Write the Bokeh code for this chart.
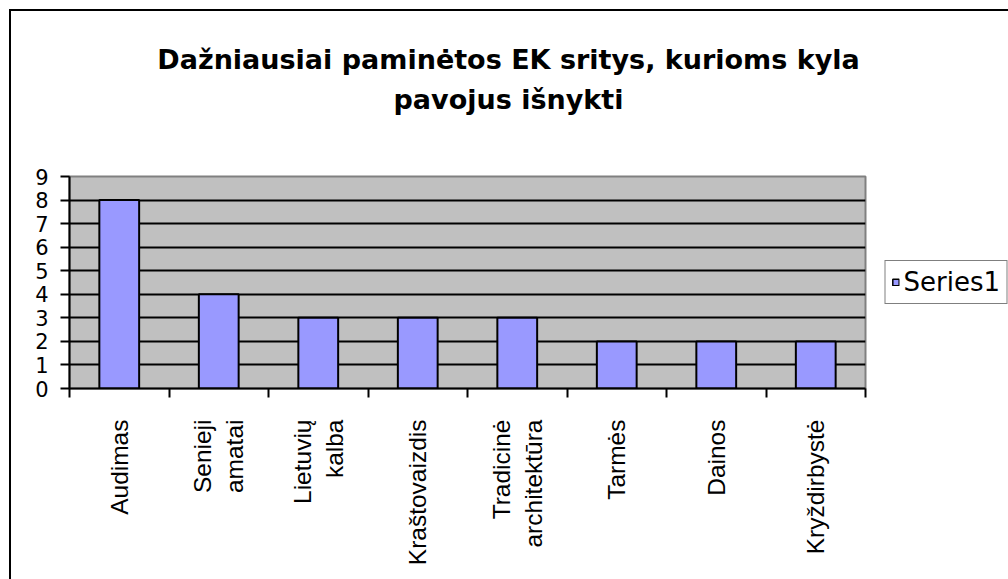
import math
from bokeh.plotting import figure
from bokeh.layouts import column, row
from bokeh.models import (ColumnDataSource, FixedTicker, Range1d, Legend, LegendItem, Div)
from bokeh.embed import file_html
from bokeh.resources import INLINE

# ---- data ----
categories = ["Audimas", "Senieji\namatai", "Lietuvių\nkalba", "Kraštovaizdis",
              "Tradicinė\narchitektūra", "Tarmės", "Dainos", "Kryždirbystė"]
values = [8, 4, 3, 3, 3, 2, 2, 2]
y_ticks = [0, 1, 2, 3, 4, 5, 6, 7, 8, 9]
series_name = "Series1"
title_lines = ["Dažniausiai paminėtos EK sritys, kurioms kyla", "pavojus išnykti"]

n = len(categories)
x_centers = [i + 0.5 for i in range(n)]
boundaries = list(range(n + 1))
src = ColumnDataSource(dict(x=x_centers, top=values, name=categories))

FONT = "Liberation Sans"
WIDE = "DejaVu Sans"
BAR_FILL = "#9999FF"

# ---- title (HTML text block above the chart) ----
title_html = ('<div style="width:980px; padding-top:29px; padding-left:15px; text-align:center; '
              'font-family:\'DejaVu Sans\'; font-weight:bold; font-size:27px; '
              'line-height:40px; color:black;">'
              + "<br>".join(title_lines) + "</div>")
title_div = Div(text=title_html, width=997, height=150, margin=0)

# ---- main chart ----
p = figure(width=856, height=418, output_backend="svg", toolbar_location=None,
           x_range=Range1d(0, n), y_range=Range1d(0, y_ticks[-1]),
           min_border_left=58, min_border_right=2, min_border_top=15, min_border_bottom=191,
           margin=0)

p.background_fill_color = "#C0C0C0"
p.border_fill_color = "white"
p.outline_line_color = "#808080"
p.outline_line_width = 2

bar_style = dict(width=0.4, fill_color=BAR_FILL, line_color="black")
bars = p.vbar(x="x", top="top", bottom=0, source=src, line_width=2, **bar_style)

p.xgrid.visible = False
p.ygrid.ticker = FixedTicker(ticks=y_ticks[1:-1])
p.ygrid.grid_line_color = "black"
p.ygrid.grid_line_width = 2

ya = p.yaxis[0]
ya.ticker = FixedTicker(ticks=y_ticks)
ya.axis_line_width = 2
ya.axis_line_color = "black"
ya.major_tick_out = 9
ya.major_tick_in = 0
ya.minor_tick_out = 0
ya.minor_tick_in = 0
ya.major_tick_line_width = 2
ya.major_label_standoff = 12
ya.major_label_text_font = WIDE
ya.major_label_text_font_size = "21px"
ya.major_label_text_color = "black"

xa = p.xaxis[0]
xa.ticker = FixedTicker(ticks=x_centers, minor_ticks=boundaries)
xa.axis_line_width = 2
xa.axis_line_color = "black"
xa.major_tick_out = 0
xa.major_tick_in = 0
xa.minor_tick_out = 9
xa.minor_tick_in = 0
xa.minor_tick_line_color = "black"
xa.minor_tick_line_width = 2
xa.major_label_overrides = {c: lab for c, lab in zip(x_centers, categories)}
xa.major_label_orientation = math.pi / 2
xa.major_label_standoff = 22
xa.major_label_text_font = FONT
xa.major_label_text_font_size = "24.5px"
xa.major_label_text_color = "black"

# ---- legend panel (separate canvas to the right of the plot area) ----
pl = figure(width=141, height=418, output_backend="svg", toolbar_location=None,
            x_range=Range1d(0, 1), y_range=Range1d(0, 1),
            x_axis_type=None, y_axis_type=None,
            min_border_left=0, min_border_right=0, min_border_top=15, min_border_bottom=191,
            margin=0)
pl.outline_line_color = None
pl.background_fill_color = "white"
pl.border_fill_color = "white"
key = pl.vbar(x="x", top="top", bottom=0, source=src, line_width=1.5, visible=False, **bar_style)
legend = Legend(items=[LegendItem(label=series_name, renderers=[key])],
                location="center_right", orientation="vertical",
                border_line_color="black", border_line_width=1.5,
                background_fill_color="white", background_fill_alpha=1,
                label_text_font=WIDE, label_text_font_size="26px",
                label_text_color="black",
                glyph_width=8, glyph_height=8, label_standoff=4,
                label_width=80, padding=6, margin=1, spacing=0)
pl.add_layout(legend, "center")

layout = column(title_div, row(p, pl, spacing=0, margin=0), spacing=0,
                styles={"border-left": "2px solid black", "border-top": "2px solid black",
                        "margin-left": "9px", "margin-top": "9px"})

open("out.html", "w").write(file_html(layout, INLINE))
